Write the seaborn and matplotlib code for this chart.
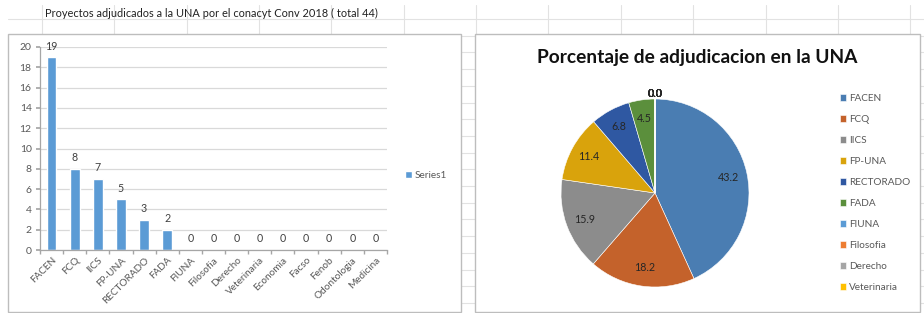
import numpy as np
import pandas as pd
import matplotlib
matplotlib.use("Agg")
import matplotlib.pyplot as plt
from matplotlib.patches import Rectangle, Patch
import seaborn as sns

# -------------------------------
# DATA
# -------------------------------
sheet_title = "Proyectos adjudicados a la UNA por el conacyt Conv 2018 ( total 44)"
categories = ["FACEN", "FCQ", "IICS", "FP-UNA", "RECTORADO", "FADA", "FIUNA",
              "Filosofia", "Derecho", "Veterinaria", "Economia", "Facso",
              "Fenob", "Odontologia", "Medicina"]
proyectos = [19, 8, 7, 5, 3, 2, 0, 0, 0, 0, 0, 0, 0, 0, 0]
porcentaje = [43.2, 18.2, 15.9, 11.4, 6.8, 4.5, 0, 0, 0, 0, 0, 0, 0, 0, 0]
series_name = "Series1"
pie_title = "Porcentaje de adjudicacion en la UNA"
legend_shown = 10

pie_colors = ["#4A7DB2", "#C4622B", "#8C8C8C", "#D9A30C", "#2F58A2", "#5B8F3C",
              "#5B9BD5", "#ED7D31", "#A5A5A5", "#FFC000", "#4472C4", "#70AD47",
              "#255E91", "#9E480E", "#636363"]

# -------------------------------
# LAYOUT (pixels)
# -------------------------------
W, H = 924, 313

sns.set_theme(style="white")
plt.rcParams["font.family"] = ["Lato", "DejaVu Sans"]


def rect(x0, y0, x1, y1):
    return [x0 / W, 1 - y1 / H, (x1 - x0) / W, (y1 - y0) / H]


fig = plt.figure(figsize=(W / 100, H / 100), dpi=100)
fig.patch.set_facecolor("white")

# spreadsheet background grid
bg = fig.add_axes([0, 0, 1, 1])
bg.set_xlim(0, W)
bg.set_ylim(H, 0)
bg.axis("off")
for k in range(19):
    y = 19 + k * 16.7
    bg.plot([8, W], [y, y], color="#E2E2E2", lw=0.8)
for k in range(13):
    x = 42 + k * 72.35
    bg.plot([x, x], [5, H], color="#E2E2E2", lw=0.8)
bg.text(45, 13, sheet_title, fontsize=7.9, color="#222222", va="center", ha="left")

# chart panels
bg.add_patch(Rectangle((8, 34), 453, 278, facecolor="white", edgecolor="#BDBDBD", lw=1, zorder=3))
bg.add_patch(Rectangle((475, 34), 445, 278, facecolor="white", edgecolor="#BDBDBD", lw=1, zorder=3))

# -------------------------------
# BAR CHART
# -------------------------------
df = pd.DataFrame({"facultad": categories, "proyectos": proyectos})
ax = fig.add_axes(rect(40, 47, 387, 250))
sns.barplot(data=df, x="facultad", y="proyectos", color="#5B9BD5",
            width=0.42, saturation=1, ax=ax)
ax.set_ylim(0, 20)
ax.set_xlim(-0.5, len(categories) - 0.5)
ax.set_yticks(range(0, 21, 2))
ax.yaxis.grid(True, color="#D9D9D9", lw=0.9)
ax.set_axisbelow(True)
ax.set_xlabel("")
ax.set_ylabel("")
for s in ["top", "right"]:
    ax.spines[s].set_visible(False)
for s in ["left", "bottom"]:
    ax.spines[s].set_color("#A6A6A6")
    ax.spines[s].set_linewidth(0.9)
ax.tick_params(axis="y", length=3, color="#A6A6A6", labelsize=7.5,
               labelcolor="#595959", pad=3, left=True)
ax.set_xticks(range(len(categories)))
ax.set_xticklabels(categories, rotation=45, ha="right", rotation_mode="anchor",
                   fontsize=7.2, color="#595959")
ax.tick_params(axis="x", length=0, pad=4)
ax.set_xticks(np.arange(-0.5, len(categories), 1), minor=True)
ax.tick_params(axis="x", which="minor", length=3, color="#A6A6A6", bottom=True)
ax.bar_label(ax.containers[0], fmt="%d", padding=4, fontsize=7.7, color="#404040")

fig.legend(handles=[Patch(facecolor="#5B9BD5", label=series_name)],
           loc="center left", bbox_to_anchor=(396 / W, 1 - 175 / H),
           frameon=False, fontsize=7.2, handlelength=0.7, handleheight=0.7,
           handletextpad=0.3, labelcolor="#595959")

# -------------------------------
# PIE CHART
# -------------------------------
cx, cy, r = 655, 193, 94
pax = fig.add_axes(rect(cx - r, cy - r, cx + r, cy + r))
wedges, _ = pax.pie(porcentaje, colors=pie_colors, startangle=90,
                    counterclock=False, radius=1,
                    wedgeprops=dict(edgecolor="white", linewidth=0.4))
pax.set_xlim(-1, 1)
pax.set_ylim(-1, 1)
pax.set_aspect("equal")
for w, v in zip(wedges, porcentaje):
    ang = np.deg2rad((w.theta1 + w.theta2) / 2)
    d = 0.8 if v > 0 else 1.06
    px, py = round(d * np.cos(ang), 4), round(d * np.sin(ang), 4)
    pax.text(px, py, f"{v:.1f}", ha="center", va="center", fontsize=7.7,
             color="#262626", clip_on=False)

fig.text(697 / W, 1 - 57 / H, pie_title, ha="center", va="center",
         fontsize=13.8, fontweight="bold", color="#111111")

fig.legend(handles=wedges[:legend_shown], labels=categories[:legend_shown],
           loc="upper left", bbox_to_anchor=(831 / W, 1 - 85 / H),
           frameon=False, fontsize=7.2, handlelength=0.6, handleheight=0.6,
           handletextpad=0.3, labelspacing=1.2, labelcolor="#595959")

fig.savefig("out.png", dpi=100)
